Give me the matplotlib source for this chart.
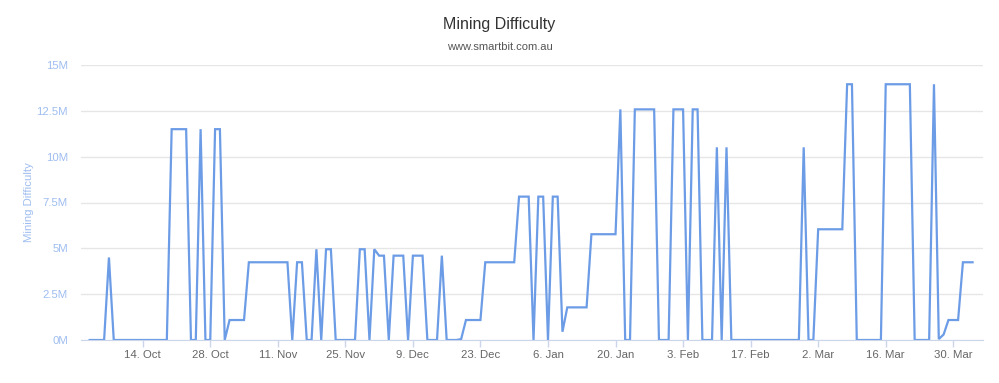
import pandas as pd
import matplotlib
matplotlib.use("Agg")
import matplotlib.pyplot as plt
import matplotlib.dates as mdates
from matplotlib.ticker import FuncFormatter

# daily mining difficulty (millions), one value per day starting 3 Oct 2015
oct_vals = [0, 0, 0, 0, 4.5,
            0, 0, 0, 0, 0, 0, 0, 0, 0, 0, 0, 0,
            11.5, 11.5, 11.5, 11.5, 0, 0, 11.5, 0, 0, 11.5, 11.5, 0]
nov_vals = [1.09, 1.09, 1.09, 1.09,
            4.24, 4.24, 4.24, 4.24, 4.24, 4.24, 4.24, 4.24, 4.24,
            0, 4.24, 4.24, 0, 0, 4.95, 0, 4.95, 4.95,
            0, 0, 0, 0, 0, 4.95, 4.95, 0]
dec_vals = [4.95, 4.6, 4.6, 0, 4.6, 4.6, 4.6, 0, 4.6, 4.6, 4.6,
            0, 0, 0, 4.6, 0, 0, 0, 0.05,
            1.09, 1.09, 1.09, 1.09,
            4.24, 4.24, 4.24, 4.24, 4.24, 4.24, 4.24, 7.82]
jan_vals = [7.82, 7.82, 0, 7.82, 7.82, 0, 7.82, 7.82, 0.45,
            1.78, 1.78, 1.78, 1.78, 1.78,
            5.77, 5.77, 5.77, 5.77, 5.77, 5.77,
            12.58, 0, 0, 12.58, 12.58, 12.58, 12.58, 12.58, 0, 0, 0]
feb_vals = [12.58, 12.58, 12.58, 0, 12.58, 12.58, 0, 0, 0,
            10.51, 0, 10.51,
            0, 0, 0, 0, 0, 0, 0, 0, 0, 0, 0, 0, 0, 0, 0,
            10.51, 0]
mar_vals = [0, 6.04, 6.04, 6.04, 6.04, 6.04, 6.04, 13.95, 13.95,
            0, 0, 0, 0, 0, 0,
            13.95, 13.95, 13.95, 13.95, 13.95, 13.95,
            0, 0, 0, 0, 13.95, 0.05, 0.3, 1.09, 1.09, 1.09]
apr_vals = [4.24, 4.24, 4.24]

tick_dates = ["2015-10-14", "2015-10-28", "2015-11-11", "2015-11-25", "2015-12-09",
              "2015-12-23", "2016-01-06", "2016-01-20", "2016-02-03", "2016-02-17",
              "2016-03-02", "2016-03-16", "2016-03-30"]
y_ticks = [0, 2.5, 5, 7.5, 10, 12.5, 15]

values = oct_vals + nov_vals + dec_vals + jan_vals + feb_vals + mar_vals + apr_vals
df = pd.DataFrame({"date": pd.date_range("2015-10-03", periods=len(values), freq="D"),
                   "difficulty": [v * 1e6 for v in values]})

plt.rcParams['font.family'] = ['Liberation Sans', 'DejaVu Sans']

fig = plt.figure(figsize=(9.99, 3.83), dpi=100)
ax = fig.add_axes([81 / 999, 1 - 340 / 383, (982.7 - 81) / 999, (340 - 65) / 383])

ax.plot(df["date"], df["difficulty"], color="#6c9ce6", lw=1.6, solid_joinstyle="miter")

t0 = pd.Timestamp("2015-10-14")
ax.set_xlim(t0 - pd.Timedelta(days=12.79), t0 + pd.Timedelta(days=174.1))
ax.set_ylim(0, 15e6)

ax.set_yticks([v * 1e6 for v in y_ticks])
ax.yaxis.set_major_formatter(FuncFormatter(lambda v, p: f"{v / 1e6:g}M"))
ax.set_xticks(pd.to_datetime(tick_dates))
ax.xaxis.set_major_formatter(mdates.DateFormatter("%-d. %b"))

ax.grid(axis="y", color="#e6e6e6", lw=1)
ax.set_axisbelow(True)
for s in ["top", "right", "left"]:
    ax.spines[s].set_visible(False)
ax.spines["bottom"].set_color("#ccd6eb")

ax.tick_params(axis="y", length=0, pad=9.5, labelsize=8.2, labelcolor="#9fbdf0")
ax.tick_params(axis="x", length=5, width=1, color="#ccd6eb", pad=2, labelsize=8.2,
               labelcolor="#666666")

ax.set_ylabel("Mining Difficulty", color="#9fbdf0", fontsize=8.2, labelpad=2)

fig.text(0.5, 1 - 25 / 383, "Mining Difficulty", ha="center", va="center",
         fontsize=11.5, color="#333333")
fig.text(0.5, 1 - 47 / 383, "www.smartbit.com.au", ha="center", va="center",
         fontsize=8, color="#555555")

fig.savefig("out.png", dpi=100)
